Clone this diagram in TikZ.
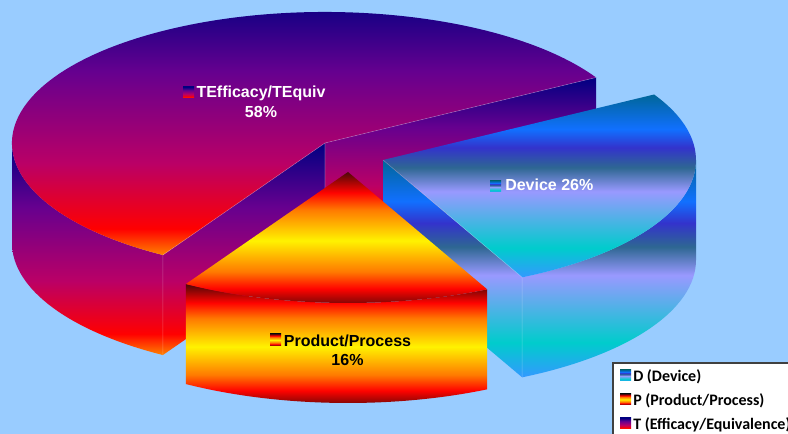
\documentclass[tikz,border=0pt]{standalone}
\usepackage{fontspec}
\setmainfont{Liberation Sans}[Ligatures=CommonOff]
\newfontfamily\legendfont{Carlito}
\usetikzlibrary{calc}

% background and gradient colours
\definecolor{bgblue}{HTML}{99CCFF}
\definecolor{sunA}{HTML}{000082}
\definecolor{sunB}{HTML}{66008F}
\definecolor{sunC}{HTML}{BA0066}
\definecolor{sunD}{HTML}{FF0000}
\definecolor{sunE}{HTML}{FF8200}
\definecolor{pkA}{HTML}{3399FF}
\definecolor{pkB}{HTML}{00CCCC}
\definecolor{pkC}{HTML}{9999FF}
\definecolor{pkD}{HTML}{2E6792}
\definecolor{pkE}{HTML}{3333CC}
\definecolor{pkF}{HTML}{1170FF}
\definecolor{pkG}{HTML}{006699}
\definecolor{frA}{HTML}{4D0808}
\definecolor{frB}{HTML}{FF0300}
\definecolor{frC}{HTML}{FF7A00}
\definecolor{frD}{HTML}{FFF200}
\definecolor{legline}{HTML}{404040}

% vertical gradients (the 25bp..75bp band spans each filled shape)
\pgfdeclareverticalshading{sunset}{100bp}{color(0bp)=(sunE); color(25bp)=(sunE);
  color(30bp)=(sunD); color(42.5bp)=(sunC); color(60bp)=(sunB);
  color(75bp)=(sunA); color(100bp)=(sunA)}
\pgfdeclareverticalshading{peacock}{100bp}{color(0bp)=(pkA); color(25bp)=(pkA);
  color(33bp)=(pkB); color(48.5bp)=(pkC); color(55bp)=(pkD); color(60.5bp)=(pkE);
  color(65.5bp)=(pkF); color(75bp)=(pkG); color(100bp)=(pkG)}
\pgfdeclareverticalshading{fire}{100bp}{color(0bp)=(frA); color(25bp)=(frA);
  color(32.5bp)=(frB); color(38.75bp)=(frC); color(50bp)=(frD);
  color(61.25bp)=(frC); color(67.5bp)=(frB); color(75bp)=(frA); color(100bp)=(frA)}

\tikzset{
  earc/.style={x radius=234.75pt, y radius=98.25pt},
  edgeline/.style={draw=white, draw opacity=0.3, line width=0.4pt},
  lbl/.style={inner sep=0pt, font=\fontsize{12}{14}\selectfont\bfseries},
  leglbl/.style={inner sep=0pt, anchor=base west, font=\legendfont\fontsize{12}{14}\selectfont\bfseries},
}

\begin{document}
\begin{tikzpicture}[x=0.75pt,y=0.75pt]
\def\rx{313}\def\ry{131}\def\dep{100}
\def\aTP{238.8}\def\aPD{296.4}

\fill[bgblue] (0,0) rectangle (788,434);
\useasboundingbox (0,0) rectangle (788,434);

% slice centres (exploded)
\coordinate (cT) at (325,291);
\coordinate (cP) at (348,262);
\coordinate (cD) at (383,274);

% rim points of the slices
\coordinate (T30) at ($(cT)+({\rx*cos(30)},{\ry*sin(30)})$);
\coordinate (Ta)  at ($(cT)+({\rx*cos(\aTP)},{\ry*sin(\aTP)})$);
\coordinate (T180) at ($(cT)+(-\rx,0)$);
\coordinate (Pa)  at ($(cP)+({\rx*cos(\aTP)},{\ry*sin(\aTP)})$);
\coordinate (Pb)  at ($(cP)+({\rx*cos(\aPD)},{\ry*sin(\aPD)})$);
\coordinate (Db)  at ($(cD)+({\rx*cos(\aPD)},{\ry*sin(\aPD)})$);
\coordinate (D0)  at ($(cD)+(\rx,0)$);

% ---- T (Efficacy/Equivalence) ----
\shade[shading=sunset] (cT) -- (T30) -- ($(T30)+(0,-\dep)$) -- ($(cT)+(0,-\dep)$) -- cycle;
\shade[shading=sunset] (cT) -- (Ta) -- ($(Ta)+(0,-\dep)$) -- ($(cT)+(0,-\dep)$) -- cycle;
\shade[shading=sunset] (T180) arc[earc, start angle=180, end angle=\aTP]
  -- ($(Ta)+(0,-\dep)$) arc[earc, start angle=\aTP, end angle=180] -- cycle;
\shade[shading=sunset] (cT) -- (T30) arc[earc, start angle=30, end angle=\aTP] -- cycle;
\path[edgeline] (Ta) -- (cT) -- (T30) (Ta) -- ++(0,-\dep) (cT) -- ++(0,-\dep);

% ---- D (Device) ----
\shade[shading=peacock] (cD) -- (Db) -- ($(Db)+(0,-\dep)$) -- ($(cD)+(0,-\dep)$) -- cycle;
\shade[shading=peacock] (Db) arc[earc, start angle=\aPD, end angle=360]
  -- ($(D0)+(0,-\dep)$) arc[earc, start angle=360, end angle=\aPD] -- cycle;
\shade[shading=peacock] (cD) -- (Db) arc[earc, start angle=\aPD, end angle=390] -- cycle;
\path[edgeline] (cD) -- (Db) -- ++(0,-\dep);

% ---- P (Product/Process) ----
\shade[shading=fire] (Pa) arc[earc, start angle=\aTP, end angle=\aPD]
  -- ($(Pb)+(0,-\dep)$) arc[earc, start angle=\aPD, end angle=\aTP] -- cycle;
\shade[shading=fire] (cP) -- (Pa) arc[earc, start angle=\aTP, end angle=\aPD] -- cycle;

% ---- data labels ----
\shade[shading=sunset] (183,336) rectangle (194,347);
\node[lbl, text=white, anchor=base] (tname) at (261,336) {TEfficacy/TEquiv};
\node[lbl, text=white, anchor=base] (tpct) at (261,316) {58\%};

\shade[shading=peacock] (490,242) rectangle (501,253);
\node[lbl, text=white, anchor=base west] (dname) at (505,243) {Device 26\%};

\shade[shading=fire] (270,88) rectangle (281,100);
\node[lbl, text=black, anchor=base] (pname) at (347.5,87) {Product/Process};
\node[lbl, text=black, anchor=base] (ppct) at (347.5,68) {16\%};

% ---- legend ----
\filldraw[fill=white, draw=legline, line width=0.8pt] (613,71) rectangle (800,-10);
\shade[shading=peacock] (620,53) rectangle (631,64);
\node[leglbl] (legD) at (633,52) {D (Device)};
\shade[shading=fire] (620,29) rectangle (631,40);
\node[leglbl] (legP) at (633,28) {P (Product/Process)};
\shade[shading=sunset] (620,5) rectangle (631,16);
\node[leglbl] (legT) at (633,4) {T (Efficacy/Equivalence)};
\end{tikzpicture}
\end{document}
